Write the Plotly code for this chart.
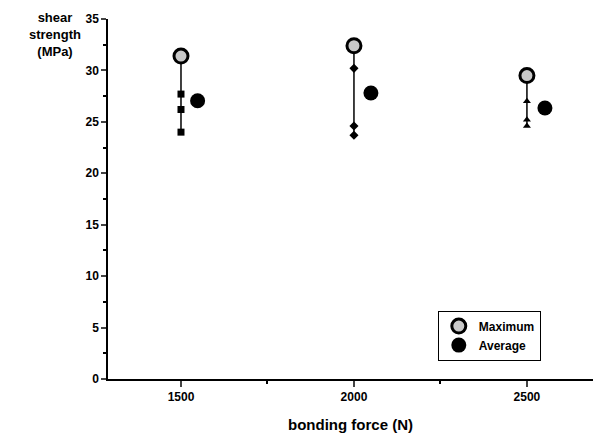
import plotly.graph_objects as go

forces = [1500, 2000, 2500]
tick_labels = ["1500", "2000", "2500"]
samples_1500 = [27.7, 26.2, 24.0]
samples_2000 = [30.2, 24.6, 23.7]
samples_2500 = [27.0, 25.2, 24.6]
maximum = [31.4, 32.4, 29.5]
avg_x = [1548, 2049, 2552]
average = [27.05, 27.8, 26.35]

samples = [samples_1500, samples_2000, samples_2500]
symbols = ["square", "diamond", "triangle-up"]

FONT = "Liberation Sans"
fig = go.Figure()

for f, s, mx, sym in zip(forces, samples, maximum, symbols):
    lo = min(s)
    fig.add_trace(go.Scatter(x=[f, f], y=[lo, mx], mode="lines",
                             line=dict(color="black", width=1.5),
                             showlegend=False, hoverinfo="skip"))
    fig.add_trace(go.Scatter(x=[f] * len(s), y=s, mode="markers",
                             marker=dict(symbol=sym, size=7, color="black"),
                             showlegend=False))

fig.add_trace(go.Scatter(x=forces, y=maximum, mode="markers", name="Maximum",
                         marker=dict(symbol="circle", size=14, color="#c8c8c8",
                                     line=dict(color="black", width=3))))
fig.add_trace(go.Scatter(x=avg_x, y=average, mode="markers", name="Average",
                         marker=dict(symbol="circle", size=15, color="black")))

fig.update_layout(
    width=593, height=437,
    margin=dict(l=108, r=0, t=19, b=58),
    plot_bgcolor="white", paper_bgcolor="white",
    font=dict(family=FONT, size=12, color="black"),
    showlegend=True,
    legend=dict(x=0.68, y=0.19, xanchor="left", yanchor="top",
                bgcolor="white", bordercolor="black", borderwidth=1,
                font=dict(family=FONT, size=12, weight="bold"),
                itemsizing="trace", tracegroupgap=0),
    xaxis=dict(range=[1289, 2691], tickvals=forces, ticktext=tick_labels,
               showgrid=False, zeroline=False, showline=True, linecolor="black",
               linewidth=1.5, ticks="outside", ticklen=6, tickwidth=1.5,
               tickfont=dict(family=FONT, size=12, weight="bold"),
               minor=dict(tickvals=[1750, 2250], ticks="outside", ticklen=3,
                          tickcolor="black", showgrid=False),
               title=dict(text="bonding force (N)",
                          font=dict(family=FONT, size=15, weight="bold"),
                          standoff=16)),
    yaxis=dict(range=[0, 35], dtick=5, showgrid=False, zeroline=False,
               showline=True, linecolor="black", linewidth=1.5,
               ticks="outside", ticklen=5, tickwidth=1.5,
               tickfont=dict(family=FONT, size=12, weight="bold"),
               minor=dict(dtick=2.5, ticks="outside", ticklen=3,
                          tickcolor="black", showgrid=False)),
)

fig.add_annotation(text="shear<br>strength<br>(MPa)", xref="paper", yref="paper",
                   x=-0.109, y=1.03, xanchor="center", yanchor="top",
                   showarrow=False, align="center",
                   font=dict(family=FONT, size=13, weight="bold"))

fig.write_html("out.html")
